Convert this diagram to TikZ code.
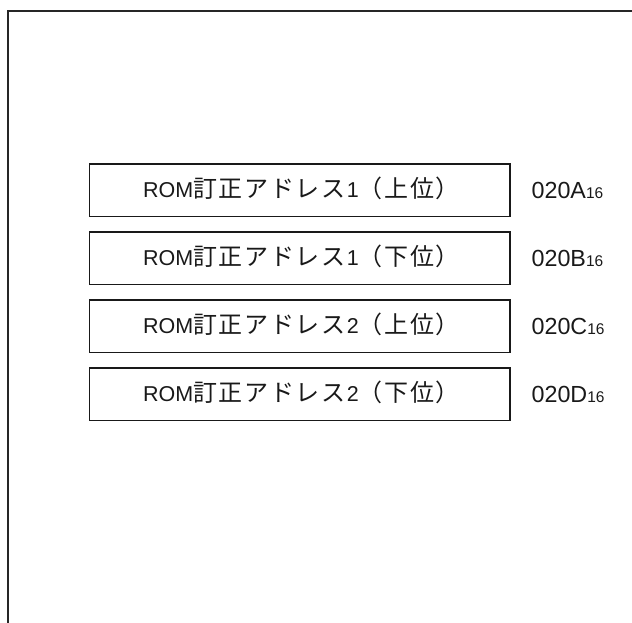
\documentclass[tikz,border=0pt]{standalone}
\usepackage{fontspec}
\setmainfont{Liberation Sans}
\newfontfamily\jpfont{Noto Sans CJK JP}
\def\jpsp#1{\ifx#1\relax\else#1\kern1.6pt\expandafter\jpsp\fi}
\newcommand{\jpt}[1]{{\jpfont\fontsize{24pt}{24pt}\selectfont\jpsp #1\relax}}
\newcommand{\sixteen}{{\fontsize{15.5pt}{15.5pt}\selectfont 16}}
\begin{document}
\begin{tikzpicture}[x=1pt,y=-1pt,
  framel/.style={draw=black!85,line width=2pt},
  regbox/.style={draw=black!90,line width=1.8pt,rectangle,minimum width=420.5pt,minimum height=52.5pt,inner sep=0pt},
  regtxt/.style={anchor=base,inner sep=0pt,font=\fontsize{21.5pt}{21.5pt}\selectfont,text=black!90},
  addr/.style={anchor=base west,inner sep=0pt,font=\fontsize{23.3pt}{23.3pt}\selectfont,text=black!90}]
\useasboundingbox (0,0) rectangle (632,622);
\draw[framel] (7.5,623) -- (7.5,10.5) -- (633,10.5);
\node[regbox] (b1) at (299.75,190.3) {};
\node[regbox] (b2) at (299.75,258.3) {};
\node[regbox] (b3) at (299.75,326.3) {};
\node[regbox] (b4) at (299.75,394.3) {};
\node[regtxt] (t1) at ([xshift=2.5pt,yshift=-6.8pt]b1.center) {ROM\jpt{訂正アドレス}1\jpt{（上位）}};
\node[regtxt] (t2) at ([xshift=2.5pt,yshift=-6.8pt]b2.center) {ROM\jpt{訂正アドレス}1\jpt{（下位）}};
\node[regtxt] (t3) at ([xshift=2.5pt,yshift=-6.8pt]b3.center) {ROM\jpt{訂正アドレス}2\jpt{（上位）}};
\node[regtxt] (t4) at ([xshift=2.5pt,yshift=-6.8pt]b4.center) {ROM\jpt{訂正アドレス}2\jpt{（下位）}};
\node[addr] (a1) at ([xshift=20.5pt,yshift=-8pt]b1.east) {020A\sixteen};
\node[addr] (a2) at ([xshift=20.5pt,yshift=-8pt]b2.east) {020B\sixteen};
\node[addr] (a3) at ([xshift=20.5pt,yshift=-8pt]b3.east) {020C\sixteen};
\node[addr] (a4) at ([xshift=20.5pt,yshift=-8pt]b4.east) {020D\sixteen};
\end{tikzpicture}
\end{document}
